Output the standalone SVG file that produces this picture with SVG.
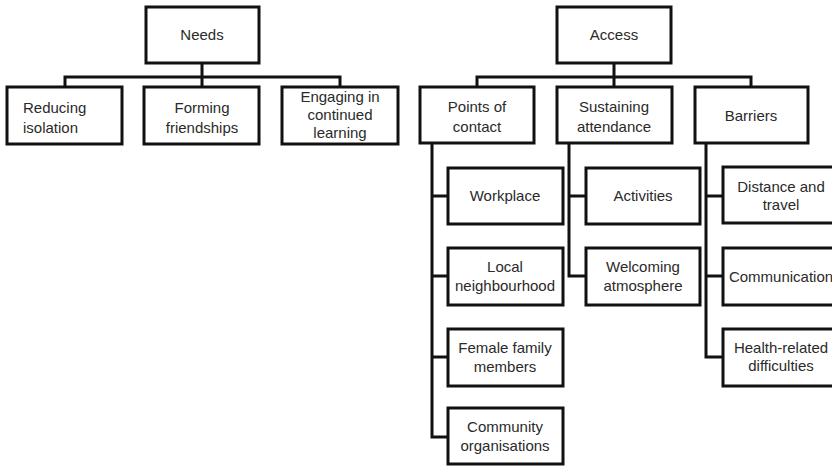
<svg xmlns="http://www.w3.org/2000/svg" width="832" height="466" viewBox="0 0 832 466">
<style>
rect{fill:#fff;stroke:#111;stroke-width:3}
.c{fill:none;stroke:#111;stroke-width:3}
text{font-family:"Liberation Sans",Arial,sans-serif;font-size:15px;fill:#2a2a2a;text-anchor:middle}
.l{text-anchor:start}
</style>
<rect x="0" y="0" width="832" height="466" style="stroke:none"/>
<g id="connectors">
<path class="c" d="M202,63V77M65,87V77H340V87M202,77V87"/>
<path class="c" d="M614,63V77M477,87V77H751V87M614,77V87"/>
<path class="c" d="M432,143V437H448M432,196H448M432,276H448M432,357H448"/>
<path class="c" d="M569,143V276H586M569,196H586"/>
<path class="c" d="M706,143V357H723M706,196H723M706,276H723"/>
</g>
<g id="needs"><rect x="146" y="7" width="113" height="56"/><text x="202" y="40">Needs</text></g>
<g id="reducing"><rect x="7" y="87" width="115" height="57"/><text class="l" x="23" y="113">Reducing</text><text class="l" x="23" y="133">isolation</text></g>
<g id="forming"><rect x="144" y="87" width="115" height="57"/><text x="202" y="113">Forming</text><text x="202" y="133">friendships</text></g>
<g id="engaging"><rect x="282" y="87" width="116" height="57"/><text x="340" y="102">Engaging in</text><text x="340" y="120">continued</text><text x="340" y="138">learning</text></g>
<g id="access"><rect x="557" y="7" width="114" height="56"/><text x="614" y="40">Access</text></g>
<g id="points"><rect x="420" y="87" width="114" height="56"/><text x="477" y="112">Points of</text><text x="477" y="132">contact</text></g>
<g id="sustaining"><rect x="557" y="87" width="115" height="56"/><text x="614" y="112">Sustaining</text><text x="614" y="132">attendance</text></g>
<g id="barriers"><rect x="695" y="87" width="113" height="56"/><text x="751" y="121">Barriers</text></g>
<g id="workplace"><rect x="448" y="168" width="115" height="56"/><text x="505" y="201">Workplace</text></g>
<g id="local"><rect x="448" y="248" width="115" height="57"/><text x="505" y="272">Local</text><text x="505" y="291">neighbourhood</text></g>
<g id="female"><rect x="448" y="329" width="115" height="57"/><text x="505" y="353">Female family</text><text x="505" y="372">members</text></g>
<g id="community"><rect x="448" y="408" width="115" height="56"/><text x="505" y="432">Community</text><text x="505" y="451">organisations</text></g>
<g id="activities"><rect x="586" y="168" width="114" height="56"/><text x="643" y="201">Activities</text></g>
<g id="welcoming"><rect x="586" y="248" width="114" height="57"/><text x="643" y="272">Welcoming</text><text x="643" y="291">atmosphere</text></g>
<g id="distance"><rect x="723" y="167" width="116" height="56"/><text x="781" y="192">Distance and</text><text x="781" y="210">travel</text></g>
<g id="communication"><rect x="723" y="248" width="116" height="57"/><text x="781" y="282">Communication</text></g>
<g id="health"><rect x="723" y="329" width="116" height="57"/><text x="781" y="353">Health-related</text><text x="781" y="371">difficulties</text></g>
</svg>
